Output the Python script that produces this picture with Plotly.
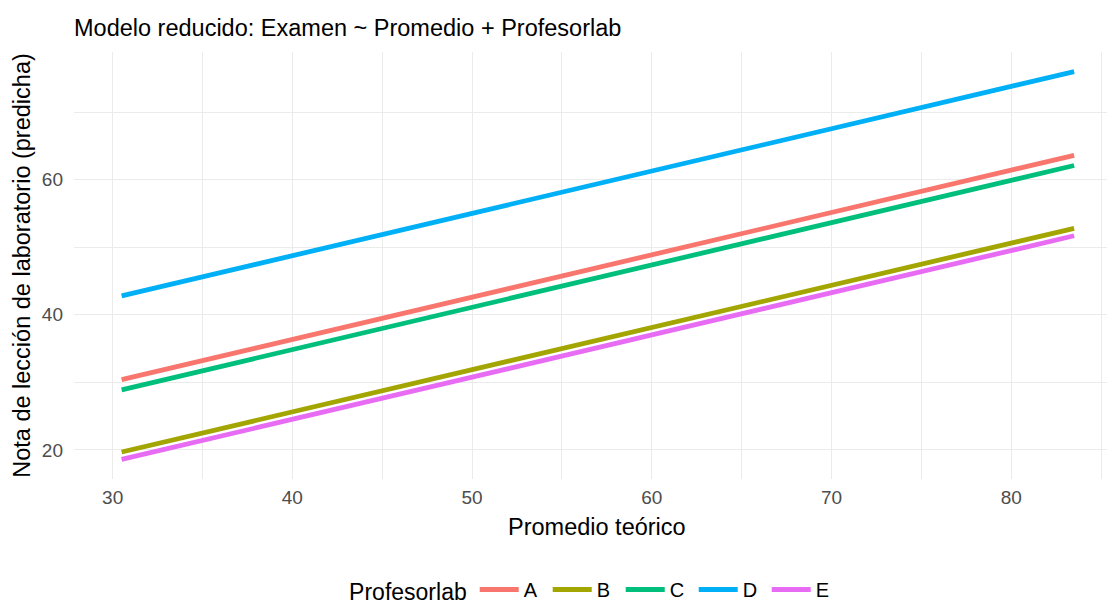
import plotly.graph_objects as go

# Rango de Promedio teórico observado
promedio = [30.5, 83.5]

# Nota de lección predicha en los extremos, por profesor de laboratorio
profesores = ["A", "B", "C", "D", "E"]
pred_A = [30.4, 63.6]
pred_B = [19.7, 52.8]
pred_C = [28.9, 62.1]
pred_D = [42.8, 76.0]
pred_E = [18.6, 51.7]
colores = ["#F8766D", "#A3A500", "#00BF7D", "#00B0F6", "#E76BF3"]

predicciones = [pred_A, pred_B, pred_C, pred_D, pred_E]

fig = go.Figure()
for prof, pred, col in zip(profesores, predicciones, colores):
    fig.add_trace(go.Scatter(
        x=promedio, y=pred, mode="lines", name=prof,
        line=dict(color=col, width=4.8),
    ))

font_family = "Liberation Sans, Arial, sans-serif"
grid = "#EBEBEB"

fig.update_layout(
    width=1107, height=605,
    margin=dict(l=74, r=0, t=52, b=126, autoexpand=False),
    paper_bgcolor="white", plot_bgcolor="white",
    font=dict(family=font_family, color="black"),
    title=dict(
        text="Modelo reducido: Examen ~ Promedio + Profesorlab",
        x=0, xref="paper", xanchor="left",
        y=1 - 28 / 605, yref="container", yanchor="middle",
        font=dict(size=23.5, color="black"),
    ),
    legend=dict(
        orientation="h",
        x=0.503, xanchor="center",
        y=-0.26, yref="paper", yanchor="middle",
        title=dict(text="Profesorlab", font=dict(size=23)),
        font=dict(size=20),
        itemwidth=39,
        entrywidth=19,
    ),
    showlegend=True,
)

# Título del eje x como anotación, centrado sobre el panel
fig.add_annotation(
    text="Promedio teórico",
    x=0.506, xref="paper", xanchor="center",
    y=-0.1124, yref="paper", yanchor="middle",
    showarrow=False, font=dict(size=23.5, color="black"),
)

fig.update_xaxes(
    range=[27.85, 85.33],
    tick0=30, dtick=10,
    showgrid=True, gridcolor=grid, gridwidth=1.3,
    minor=dict(showgrid=True, tick0=35, dtick=5, gridcolor=grid, gridwidth=0.9),
    zeroline=False, showline=False, ticks="",
    tickfont=dict(size=19, color="#4D4D4D"),
    ticklabelstandoff=5,
    automargin=False,
)
fig.update_yaxes(
    range=[15.7, 78.9],
    tick0=20, dtick=20,
    showgrid=True, gridcolor=grid, gridwidth=1.3,
    minor=dict(showgrid=True, tick0=30, dtick=10, gridcolor=grid, gridwidth=0.9),
    zeroline=False, showline=False, ticks="",
    tickfont=dict(size=19, color="#4D4D4D"),
    ticklabelstandoff=10,
    automargin=False,
    title=dict(text="Nota de lección de laboratorio (predicha)", font=dict(size=23.5), standoff=4),
)

fig.write_html("out.html")
